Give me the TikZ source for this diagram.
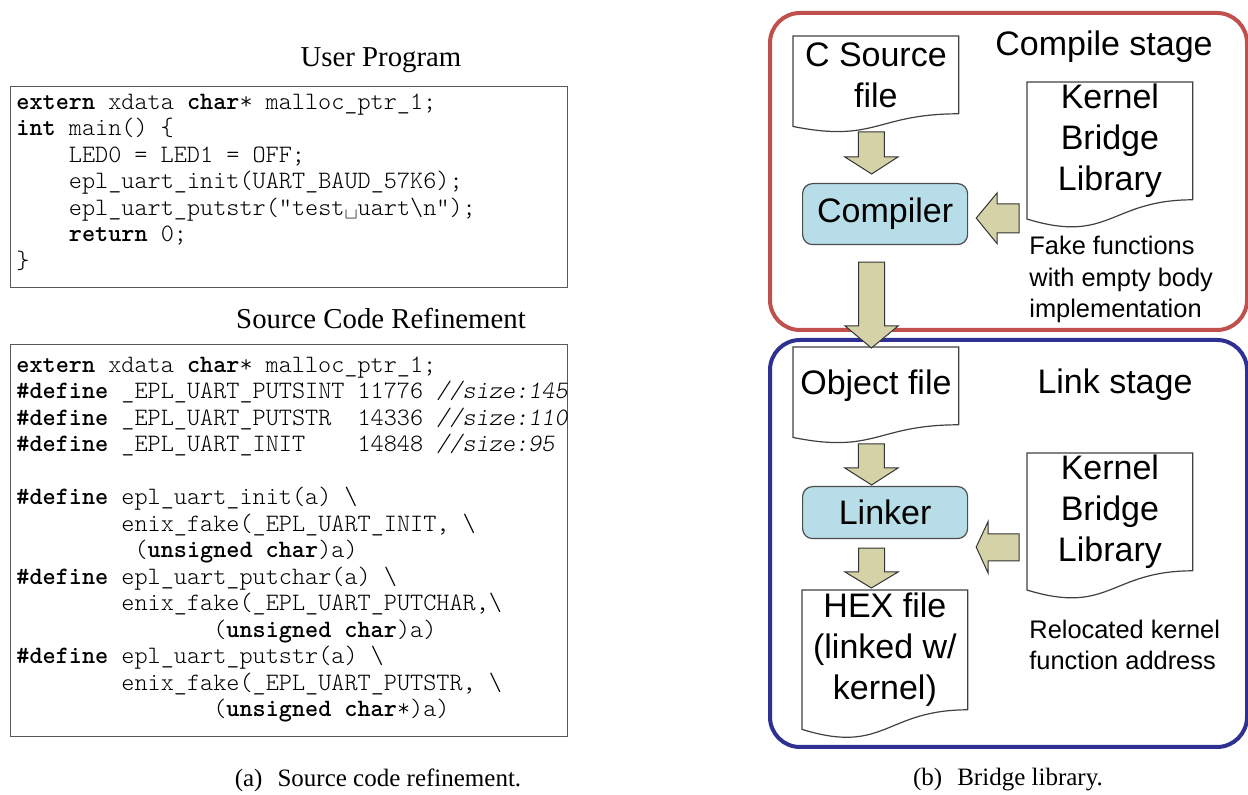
\documentclass[tikz,border=0pt]{standalone}
\usepackage{fontspec}
\setmainfont{Liberation Serif}
\newfontfamily\arial{Liberation Sans}
\usetikzlibrary{calc}
\definecolor{stagered}{RGB}{192,80,77}
\definecolor{stageblue}{RGB}{46,49,146}
\definecolor{procfill}{RGB}{183,222,232}
\definecolor{arrowfill}{RGB}{213,210,168}
\newcommand\codefont{\fontfamily{lmtt}\fontseries{l}\fontshape{n}\fontsize{12.5}{13.25}\selectfont}
\newcommand\kw[1]{{\bfseries #1}}
\newcommand\cmt[1]{{\slshape #1}}
% document outline: #1 node name, #2 node height in px
\newcommand\docoutline[2]{%
  \draw[docline] (#1.south east) -- (#1.north east) -- (#1.north west) -- ($(#1.south west)+(0,{0.1645*#2})$) .. controls ($(#1.south)+(0,{0.381*#2})$) and (#1.south) .. (#1.south east);}
% fat arrow pointing down: start, tip, shaft half, head half, head length
\newcommand\fatdown[5]{%
  \path[fatarrow] let \p1=(#1), \p2=(#2) in
   (\x1-#3,\y1) -- (\x1+#3,\y1) -- (\x1+#3,\y2+#5) -- (\x1+#4,\y2+#5) -- (\x2,\y2) -- (\x1-#4,\y2+#5) -- (\x1-#3,\y2+#5) -- cycle;}
% fat arrow pointing left: start (right end), tip, shaft half, head half, head length
\newcommand\fatleft[5]{%
  \path[fatarrow] let \p1=(#1), \p2=(#2) in
   (\x1,\y1+#3) -- (\x1,\y1-#3) -- (\x2+#5,\y1-#3) -- (\x2+#5,\y1-#4) -- (\x2,\y2) -- (\x2+#5,\y1+#4) -- (\x2+#5,\y1+#3) -- cycle;}
\begin{document}
\begin{tikzpicture}[x=0.5pt,y=-0.5pt,
  codeline/.style={anchor=west, inner sep=0pt, font=\codefont, text height=7.75pt, text depth=2.5pt},
  codebox/.style={draw=black!65, line width=0.7pt, inner sep=0pt, anchor=north west},
  titletext/.style={font=\fontsize{14.4}{17}\selectfont, inner sep=0pt},
  captext/.style={font=\fontsize{12.5}{15}\selectfont, inner sep=0pt},
  stagebox/.style={line width=2pt, rounded corners=15pt, inner sep=0pt, anchor=north west},
  docbox/.style={inner sep=0pt, anchor=north west, align=center, font=\arial\fontsize{17}{20.5}\selectfont},
  docline/.style={draw=black!75, line width=0.6pt},
  procbox/.style={draw=black!70, line width=0.6pt, fill=procfill, rounded corners=5pt, inner sep=0pt, anchor=north west, font=\arial\fontsize{17}{20.5}\selectfont},
  fatarrow/.style={draw=black!80, line width=0.5pt, fill=arrowfill, line join=miter},
  stagelabel/.style={font=\arial\fontsize{17}{20.5}\selectfont, inner sep=0pt},
  notetext/.style={font=\arial\fontsize{12.7}{15.75}\selectfont, inner sep=0pt, align=left, anchor=west}
]
\useasboundingbox (0,0) rectangle (1248,795);

% ---------------- left: code ----------------
\node[titletext] (t1) at (381,60) {User Program};
\node[codebox, minimum width=278.5pt, minimum height=100.5pt] (prog) at (10,86) {};
\node[codeline] (p1) at (16,104) {\kw{extern} xdata \kw{char}* malloc\_ptr\_1;};
\node[codeline] (p2) at (16,130.5) {\kw{int} main() \{};
\node[codeline] (p3) at (16,157) {~~~~LED0 = LED1 = OFF;};
\node[codeline] (p4) at (16,183.5) {~~~~epl\_uart\_init(UART\_BAUD\_57K6);};
\node[codeline] (p5) at (16,210) {~~~~epl\_uart\_putstr("test\textvisiblespace uart\textbackslash n");};
\node[codeline] (p6) at (16,236.5) {~~~~\kw{return} 0;};
\node[codeline] (p7) at (16,263) {\}};

\node[titletext] (t2) at (381,319) {Source Code Refinement};
\node[codebox, minimum width=278.5pt, minimum height=196pt] (refine) at (10,344) {};
\node[codeline] (r1) at (16,367) {\kw{extern} xdata \kw{char}* malloc\_ptr\_1;};
\node[codeline] (r2) at (16,393.5) {\kw{\#define} \_EPL\_UART\_PUTSINT 11776 \cmt{//size:145}};
\node[codeline] (r3) at (16,420) {\kw{\#define} \_EPL\_UART\_PUTSTR~~14336 \cmt{//size:110}};
\node[codeline] (r4) at (16,446.5) {\kw{\#define} \_EPL\_UART\_INIT~~~~14848 \cmt{//size:95}};
\node[codeline] (r6) at (16,499.5) {\kw{\#define} epl\_uart\_init(a) \textbackslash};
\node[codeline] (r7) at (16,526) {~~~~~~~~enix\_fake(\_EPL\_UART\_INIT, \textbackslash};
\node[codeline] (r8) at (16,552.5) {~~~~~~~~~(\kw{unsigned char})a)};
\node[codeline] (r9) at (16,579) {\kw{\#define} epl\_uart\_putchar(a) \textbackslash};
\node[codeline] (r10) at (16,605.5) {~~~~~~~~enix\_fake(\_EPL\_UART\_PUTCHAR,\textbackslash};
\node[codeline] (r11) at (16,632) {~~~~~~~~~~~~~~~(\kw{unsigned char})a)};
\node[codeline] (r12) at (16,658.5) {\kw{\#define} epl\_uart\_putstr(a) \textbackslash};
\node[codeline] (r13) at (16,685) {~~~~~~~~enix\_fake(\_EPL\_UART\_PUTSTR, \textbackslash};
\node[codeline] (r14) at (16,711.5) {~~~~~~~~~~~~~~~(\kw{unsigned char}*)a)};

\node[captext] (capa) at (378,780) {(a)\hspace{0.6em}Source code refinement.};
\node[captext] (capb) at (1008,780) {(b)\hspace{0.6em}Bridge library.};

% ---------------- right: stages ----------------
\node[stagebox, draw=stagered, minimum width=238.5pt, minimum height=158.5pt] (cstage) at (768,11) {};
\node[stagebox, draw=stageblue, minimum width=238.5pt, minimum height=203.5pt] (lstage) at (768,338) {};
\node[stagelabel] (cslab) at (1104,47) {Compile stage};
\node[stagelabel] (lslab) at (1115,385) {Link stage};

\node[docbox, minimum width=82.5pt, minimum height=38.5pt] (csrc) at (793,36) {C Source\\file};
\docoutline{csrc}{77}
\node[docbox, minimum width=82.5pt, minimum height=58.5pt] (kbl1) at (1027,82) {Kernel\\Bridge\\Library};
\docoutline{kbl1}{117}
\node[procbox, minimum width=82.5pt, minimum height=30.5pt] (comp) at (802,183) {Compiler};
\node[notetext] (note1) at (1029,279.5) {Fake functions\\with empty body\\implementation};

\node[docbox, minimum width=82.5pt, minimum height=38.5pt] (obj) at (793,347) {Object file};
\docoutline{obj}{77}
\node[procbox, minimum width=82.5pt, minimum height=26pt] (link) at (802,486) {Linker};
\node[docbox, minimum width=82.5pt, minimum height=59.5pt] (hex) at (802,590) {HEX file\\(linked w/\\kernel)};
\docoutline{hex}{119}
\node[docbox, minimum width=82.5pt, minimum height=58.5pt] (kbl2) at (1027,453) {Kernel\\Bridge\\Library};
\docoutline{kbl2}{117}
\node[notetext] (note2) at (1029,645) {Relocated kernel\\function address};

% connector end points
\coordinate (a1s) at ($(csrc.south)+(-4.5,18)$);
\coordinate (a1t) at ($(comp.north)+(-13.5,-9)$);
\coordinate (a2s) at ($(kbl1.south west)+(-8,18.5)$);
\coordinate (a2t) at ($(comp.east)+(8,4)$);
\coordinate (a3s) at ($(comp.south)+(-13.5,17)$);
\coordinate (a3t) at ($(obj.north)+(-4.5,1)$);
\coordinate (a4s) at ($(obj.south)+(-4.5,19)$);
\coordinate (a4t) at ($(link.north)+(-13.5,-1)$);
\coordinate (a5s) at ($(link.south)+(-13.5,9)$);
\coordinate (a5t) at ($(hex.north)+(-13.5,-2)$);
\coordinate (a6s) at ($(kbl2.south west)+(-8,-23.5)$);
\coordinate (a6t) at ($(link.east)+(8,34.5)$);

\fatdown{a1s}{a1t}{6.5pt}{13.25pt}{8.5pt}
\fatleft{a2s}{a2t}{7.25pt}{12.75pt}{10.5pt}
\fatdown{a3s}{a3t}{6.5pt}{13.25pt}{11pt}
\fatdown{a4s}{a4t}{6.5pt}{13.25pt}{8.5pt}
\fatdown{a5s}{a5t}{6.5pt}{13.25pt}{8pt}
\fatleft{a6s}{a6t}{6.75pt}{13pt}{6pt}
\end{tikzpicture}
\end{document}
